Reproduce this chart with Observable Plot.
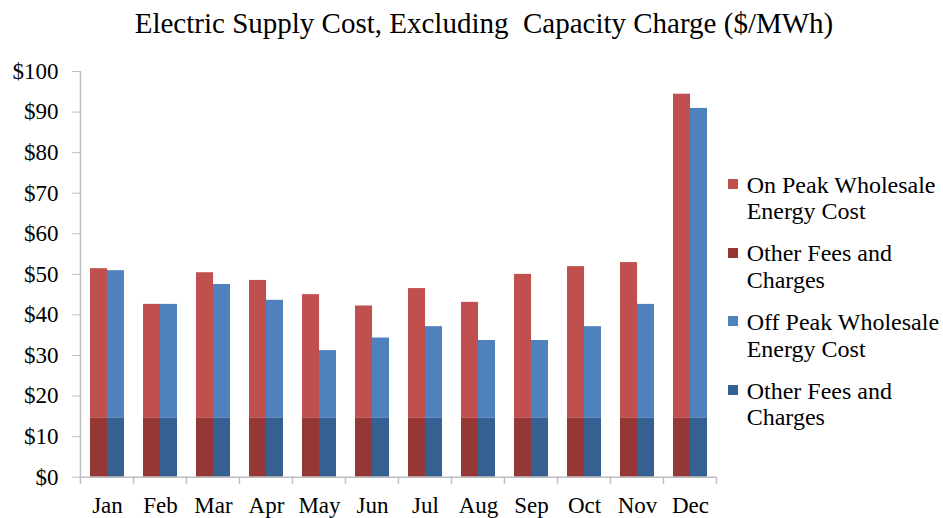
<!DOCTYPE html>
<html><head><meta charset="utf-8">
<script src="https://cdn.jsdelivr.net/npm/d3@7"></script>
<script src="https://cdn.jsdelivr.net/npm/@observablehq/plot@0.6"></script>
<style>
body{margin:0;background:#fff;font-family:"Liberation Serif","Times New Roman",serif;}
#wrap{position:relative;width:943px;height:518px;overflow:hidden;}
#title{height:40px;position:relative;}
#title span{position:absolute;left:484px;top:8.7px;transform:translateX(-50%);font-size:29px;line-height:29px;white-space:pre;color:#000;}
.leg{position:absolute;left:746.7px;font-size:24px;line-height:26.5px;color:#000;white-space:nowrap;}
.sw{position:absolute;left:728px;width:10px;height:10px;}
#chart svg{display:block;}
</style></head>
<body>
<div id="wrap">
  <div id="title"><span>Electric Supply Cost, Excluding  Capacity Charge ($/MWh)</span></div>
  <div id="chart"></div>
  <div id="legend"></div>
</div>
<script>
const months = ["Jan","Feb","Mar","Apr","May","Jun","Jul","Aug","Sep","Oct","Nov","Dec"];
const onPeakFees       = [14.5,14.5,14.5,14.5,14.5,14.5,14.5,14.5,14.5,14.5,14.5,14.5];
const onPeakWholesale  = [36.9,28.1,35.9,34.0,30.5,27.7,32.0,28.6,35.5,37.4,38.4,79.9];
const offPeakFees      = [14.5,14.5,14.5,14.5,14.5,14.5,14.5,14.5,14.5,14.5,14.5,14.5];
const offPeakWholesale = [36.4,28.1,33.0,29.1,16.7,19.8,22.6,19.2,19.2,22.6,28.1,76.4];
const yTicks = [0,10,20,30,40,50,60,70,80,90,100];
const seriesKeys = ["onPeak","onFees","offPeak","offFees"];
const seriesLabels = ["On Peak Wholesale\nEnergy Cost","Other Fees and\nCharges","Off Peak Wholesale\nEnergy Cost","Other Fees and\nCharges"];
const seriesColors = ["#C0504D","#953735","#4F81BD","#376092"];

const rows = [];
months.forEach((m, i) => {
  rows.push({month: m, group: "on", key: "onFees", value: onPeakFees[i]});
  rows.push({month: m, group: "on", key: "onPeak", value: onPeakWholesale[i]});
  rows.push({month: m, group: "off", key: "offFees", value: offPeakFees[i]});
  rows.push({month: m, group: "off", key: "offPeak", value: offPeakWholesale[i]});
});

const W = 943, H = 478, mL = 80, mR = 227, mT = 31, mB = 41.3;
const padIn = 0.36, padOut = 0.18;
const step = (W - mL - mR) / (months.length - padIn + 2 * padOut);
const half = step * (1 - padIn) / 2;
const gray = "#bfbfbf";

const plot = Plot.plot({
  width: W, height: H,
  marginLeft: mL, marginRight: mR, marginTop: mT, marginBottom: mB,
  style: {fontFamily: "'Liberation Serif','Times New Roman',serif", fontSize: "23px", color: "black", background: "white", overflow: "visible"},
  x: {domain: months, paddingInner: padIn, paddingOuter: padOut, axis: null},
  y: {domain: [0, 100], axis: null},
  color: {domain: seriesKeys, range: seriesColors},
  marks: [
    Plot.barY(rows.filter(d => d.group === "on"), {x: "month", y: "value", fill: "key", insetRight: half}),
    Plot.barY(rows.filter(d => d.group === "off"), {x: "month", y: "value", fill: "key", insetLeft: half}),
    Plot.axisY({ticks: yTicks, tickFormat: d => "$" + d, tickSize: 8, tickPadding: 14, stroke: gray, fill: "black", label: null}),
    Plot.axisX({tickSize: 0, tickPadding: 19, fill: "black", label: null}),
    Plot.ruleY([0], {stroke: gray, strokeWidth: 1.5})
  ]
});
document.getElementById("chart").appendChild(plot);

// axis line and category-boundary ticks, placed with the plot's own scales
const xs = plot.scale("x"), ys = plot.scale("y");
const svg = d3.select(plot);
const y0 = ys.apply(0), y100 = ys.apply(100);
const st = xs.step ?? (xs.bandwidth / (1 - padIn));
const x0 = xs.apply(months[0]) - st * padOut;
svg.append("line").attr("x1", x0).attr("x2", x0).attr("y1", y100).attr("y2", y0 + 7)
  .attr("stroke", gray).attr("stroke-width", 1.5);
for (let i = 1; i <= months.length; i++) {
  const x = x0 + i * st;
  svg.append("line").attr("x1", x).attr("x2", x).attr("y1", y0).attr("y2", y0 + 7)
    .attr("stroke", gray).attr("stroke-width", 1.5);
}

// legend
const legend = document.getElementById("legend");
const tops = [171.7, 240.4, 309.1, 377.8];
seriesKeys.forEach((k, i) => {
  const sw = document.createElement("div");
  sw.className = "sw";
  sw.style.top = (tops[i] + 7.3) + "px";
  sw.style.background = seriesColors[i];
  legend.appendChild(sw);
  const t = document.createElement("div");
  t.className = "leg";
  t.style.top = tops[i] + "px";
  t.innerHTML = seriesLabels[i].split("\n").join("<br>");
  legend.appendChild(t);
});
</script>
</body></html>
